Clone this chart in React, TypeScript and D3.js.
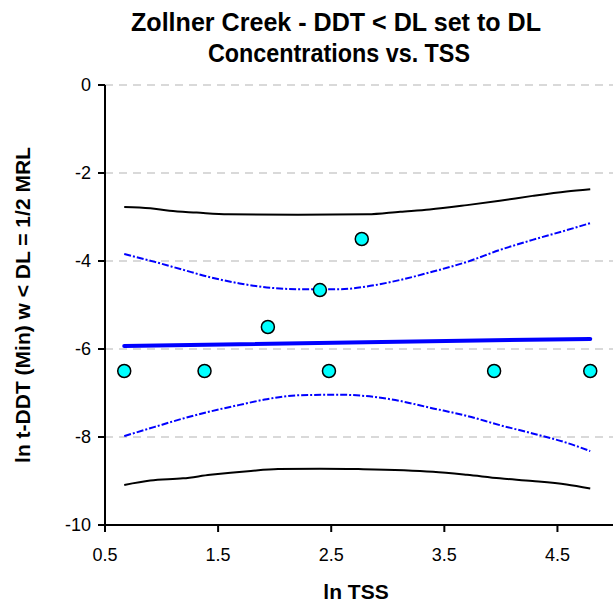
import React from "react";
import * as d3 from "d3";

const pointX = [0.67, 1.38, 1.94, 2.4, 2.48, 2.77, 3.94, 4.79];
const pointY = [-6.5, -6.5, -5.5, -4.66, -6.5, -3.5, -6.5, -6.5];

const fitX = [0.67, 4.79];
const fitY = [-5.93, -5.77];

const ciUpperX = [0.67, 0.94, 1.19, 1.43, 1.69, 1.93, 2.22, 2.58, 2.81, 3.11, 3.4, 3.7, 3.99, 4.28, 4.58, 4.79];
const ciUpperY = [-3.84, -4.02, -4.2, -4.37, -4.51, -4.6, -4.64, -4.64, -4.58, -4.43, -4.24, -4.02, -3.75, -3.52, -3.3, -3.14];

const ciLowerX = [0.67, 0.94, 1.19, 1.43, 1.69, 1.93, 2.22, 2.58, 3.02, 3.4, 3.7, 3.99, 4.28, 4.58, 4.79];
const ciLowerY = [-7.98, -7.77, -7.58, -7.42, -7.27, -7.14, -7.05, -7.04, -7.14, -7.35, -7.52, -7.73, -7.92, -8.13, -8.32];

const piUpperX = [0.67, 0.9, 1.07, 1.31, 1.59, 2.2, 2.82, 3.11, 3.37, 3.7, 3.99, 4.28, 4.58, 4.79];
const piUpperY = [-2.77, -2.8, -2.86, -2.9, -2.94, -2.95, -2.94, -2.88, -2.83, -2.73, -2.63, -2.52, -2.42, -2.37];

const piLowerX = [0.67, 0.9, 1.19, 1.43, 1.79, 2.03, 2.4, 2.74, 3.4, 3.7, 3.99, 4.28, 4.58, 4.79];
const piLowerY = [-9.09, -8.99, -8.94, -8.86, -8.77, -8.73, -8.72, -8.73, -8.79, -8.86, -8.94, -9.0, -9.08, -9.17];

const xTicks = [0.5, 1.5, 2.5, 3.5, 4.5];
const yTicks = [0, -2, -4, -6, -8, -10];
const gridY = [0, -2, -4, -6, -8];

const titleLines = ["Zollner Creek - DDT < DL set to DL", "Concentrations vs. TSS"];
const xLabel = "ln TSS";
const yLabel = "ln t-DDT (Min) w < DL = 1/2 MRL";

const W = 613;
const H = 607;
const left = 105;
const right = 614;
const top = 85;
const bottom = 525;
const font = "Arial, 'Liberation Sans', sans-serif";

export default function App() {
  const x = d3.scaleLinear().domain([0.5, 5]).range([left, right]);
  const y = d3.scaleLinear().domain([-10, 0]).range([bottom, top]);

  const line = (xs: number[], ys: number[]) =>
    d3
      .line<number>()
      .x((_, i) => x(xs[i]))
      .y((d) => y(d))
      .curve(d3.curveMonotoneX)(ys) || "";

  const titleLen = [410, 262];
  const titleCx = [336, 339];

  return (
    <svg
      width={W}
      height={H}
      style={{ position: "absolute", left: 0, top: 0, background: "#fff" }}
      fontFamily={font}
    >
      {titleLines.map((t, i) => (
        <text
          key={t}
          x={titleCx[i] - titleLen[i] / 2}
          y={31 + i * 31}
          fontWeight="bold"
          fontSize={25}
          textLength={titleLen[i]}
          lengthAdjust="spacingAndGlyphs"
        >
          {t}
        </text>
      ))}

      {gridY.map((v) => (
        <line
          key={v}
          x1={left}
          x2={W}
          y1={y(v)}
          y2={y(v)}
          stroke="#b4b4b4"
          strokeWidth={1.2}
          strokeDasharray="8,6"
        />
      ))}

      <path d={line(piUpperX, piUpperY)} fill="none" stroke="#000" strokeWidth={2} />
      <path d={line(piLowerX, piLowerY)} fill="none" stroke="#000" strokeWidth={2} />
      <path
        d={line(ciUpperX, ciUpperY)}
        fill="none"
        stroke="#0000ff"
        strokeWidth={2}
        strokeDasharray="7,2,2,2"
      />
      <path
        d={line(ciLowerX, ciLowerY)}
        fill="none"
        stroke="#0000ff"
        strokeWidth={2}
        strokeDasharray="7,2,2,2"
      />
      <path
        d={line(fitX, fitY)}
        fill="none"
        stroke="#0000ff"
        strokeWidth={4}
        strokeLinecap="round"
      />

      {pointX.map((px, i) => (
        <circle
          key={i}
          cx={x(px)}
          cy={y(pointY[i])}
          r={6.5}
          fill="#00ffff"
          stroke="#000"
          strokeWidth={1.5}
        />
      ))}

      <line x1={left} x2={left} y1={top} y2={bottom} stroke="#000" strokeWidth={2} />
      <line x1={left} x2={W} y1={bottom} y2={bottom} stroke="#000" strokeWidth={2} />

      {yTicks.map((v) => (
        <g key={v}>
          <line x1={left - 7} x2={left} y1={y(v)} y2={y(v)} stroke="#000" strokeWidth={2} />
          <text x={left - 14} y={y(v)} dy="0.36em" textAnchor="end" fontSize={18}>
            {v}
          </text>
        </g>
      ))}
      {xTicks.map((v) => (
        <g key={v}>
          <line x1={x(v)} x2={x(v)} y1={bottom} y2={bottom + 7} stroke="#000" strokeWidth={2} />
          <text x={x(v)} y={555} dy="0.36em" textAnchor="middle" fontSize={18}>
            {v.toFixed(1)}
          </text>
        </g>
      ))}

      <text x={356} y={591} dy="0.36em" textAnchor="middle" fontWeight="bold" fontSize={21}>
        {xLabel}
      </text>
      <text
        transform={`translate(22,305) rotate(-90)`}
        dy="0.36em"
        textAnchor="middle"
        fontWeight="bold"
        fontSize={21}
      >
        {yLabel}
      </text>
    </svg>
  );
}
